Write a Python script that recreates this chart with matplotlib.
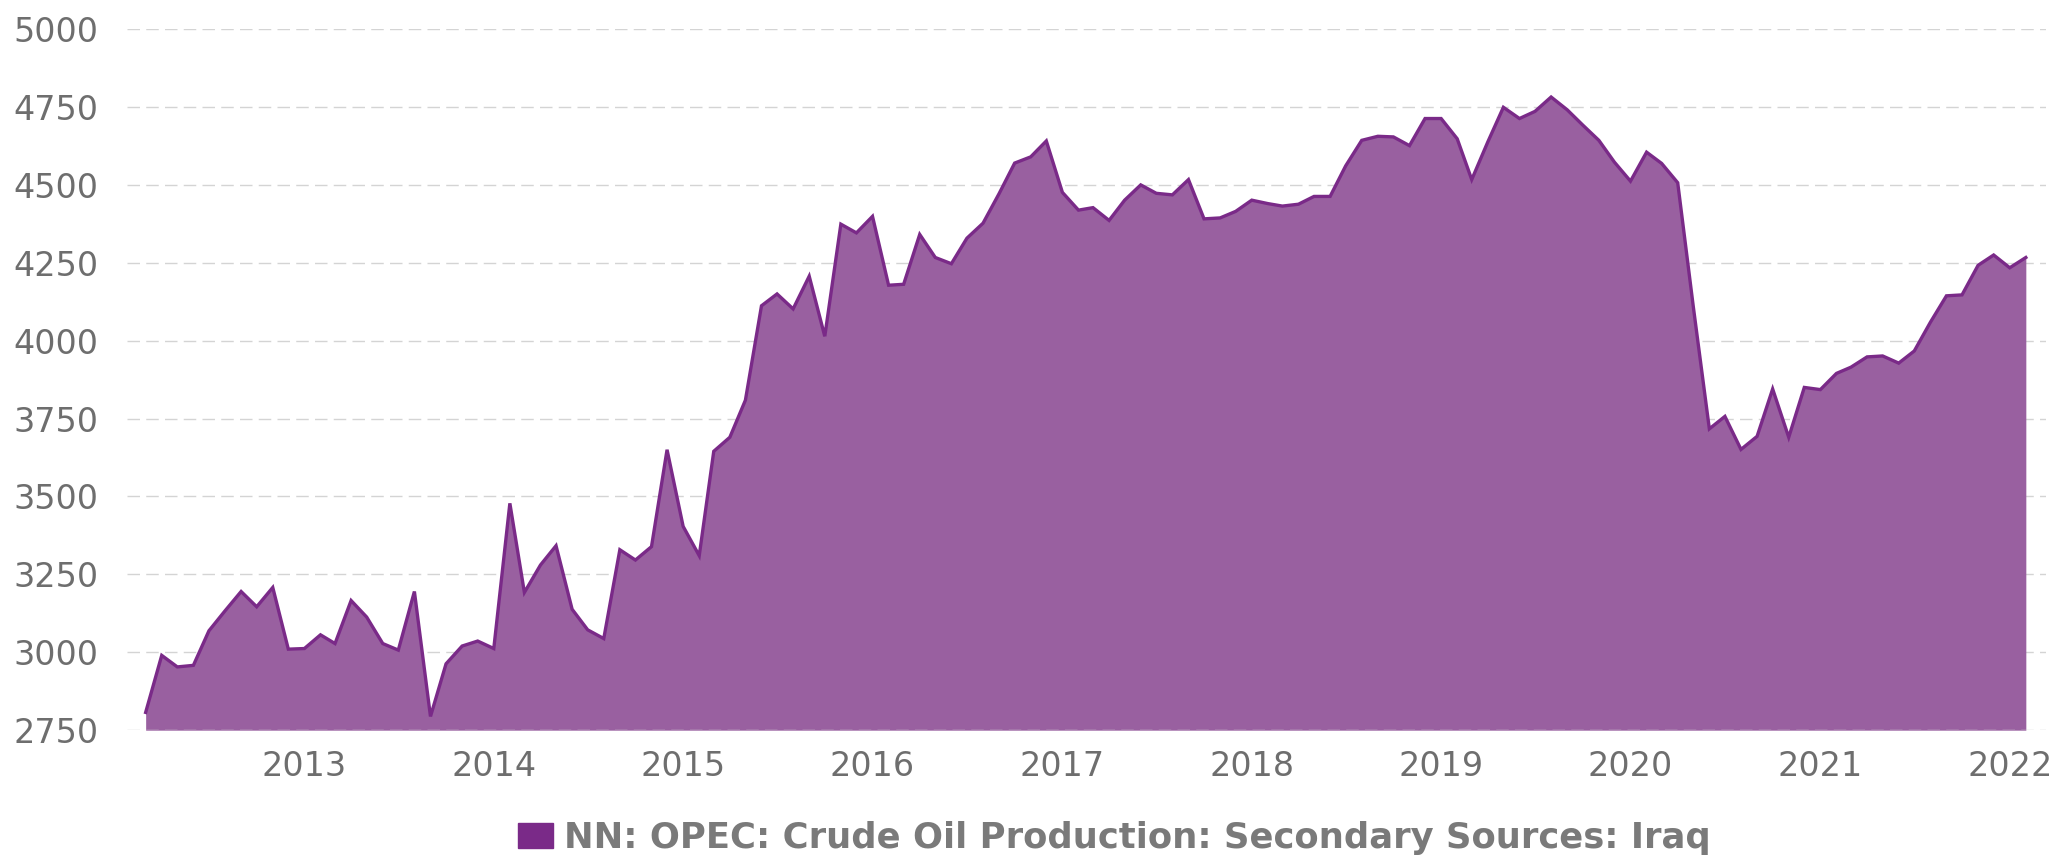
import matplotlib
matplotlib.use("Agg")
import matplotlib.pyplot as plt
import matplotlib.dates as mdates
from matplotlib.patches import Patch
from matplotlib.transforms import blended_transform_factory
import pandas as pd

plt.rcParams['font.family'] = ['DejaVu Sans']

start_month = "2012-03-01"
values = [
    # 2012 Mar-Dec
    2807, 2990, 2953, 2958, 3069, 3133, 3195, 3146, 3208, 3010,
    # 2013
    3012, 3056, 3028, 3166, 3113, 3028, 3007, 3195, 2794, 2963, 3020, 3036,
    # 2014
    3012, 3478, 3192, 3280, 3342, 3138, 3072, 3044, 3329, 3296, 3339, 3650,
    # 2015
    3404, 3310, 3645, 3690, 3809, 4112, 4150, 4102, 4207, 4014, 4374, 4346,
    # 2016
    4399, 4178, 4181, 4341, 4267, 4247, 4329, 4377, 4472, 4570, 4590, 4641,
    # 2017
    4476, 4419, 4427, 4386, 4451, 4500, 4473, 4468, 4517, 4391, 4394, 4415,
    # 2018
    4451, 4440, 4432, 4438, 4463, 4463, 4561, 4643, 4656, 4654, 4626, 4713,
    # 2019
    4713, 4648, 4517, 4638, 4749, 4713, 4736, 4782, 4741, 4692, 4643, 4573,
    # 2020
    4512, 4605, 4569, 4507, 4110, 3717, 3757, 3651, 3693, 3845, 3690, 3850,
    # 2021
    3843, 3895, 3915, 3948, 3951, 3928, 3967, 4059, 4144, 4147, 4242, 4275,
    # 2022 Jan-Feb
    4234, 4267,
]
dates = pd.date_range(start_month, periods=len(values), freq="MS")
y_ticks = [2750, 3000, 3250, 3500, 3750, 4000, 4250, 4500, 4750, 5000]
x_tick_years = list(range(2013, 2023))
legend_label = "NN: OPEC: Crude Oil Production: Secondary Sources: Iraq"

line_color = "#7A2A88"
fill_color = "#9960A0"
text_color = "#6e6e6e"

fig = plt.figure(figsize=(20.58, 8.56), dpi=100)
ax = fig.add_axes([0.0617, 0.147, 0.9325, 0.819])

ax.fill_between(dates, values, y_ticks[0], color=fill_color, lw=0, zorder=2)
ax.plot(dates, values, color=line_color, lw=2.4, zorder=3, solid_joinstyle="miter")

ax.set_ylim(y_ticks[0], y_ticks[-1])
ax.set_xlim(dates[0] - pd.Timedelta(days=36), dates[-1] + pd.Timedelta(days=39))
ax.set_yticks(y_ticks)
ax.set_xticks([pd.Timestamp(f"{y}-01-01") for y in x_tick_years])
ax.xaxis.set_major_formatter(mdates.DateFormatter("%Y"))

for t in y_ticks:
    ax.axhline(t, color="#d4d4d4", lw=1.0, dashes=(9, 4.5),
               zorder=1 if t != y_ticks[0] else 4)

for s in ax.spines.values():
    s.set_visible(False)
ax.tick_params(axis="both", length=0, labelsize=24, labelcolor=text_color)
ax.tick_params(axis="x", pad=14)
for lab in ax.get_yticklabels():
    lab.set_horizontalalignment("left")
    lab.set_transform(blended_transform_factory(fig.transFigure, ax.transData))
    lab.set_x(13 / 2058)

handle = Patch(facecolor=line_color, edgecolor=line_color)
fig.legend([handle], [legend_label], loc="center", bbox_to_anchor=(0.5415, 0.021),
           frameon=False, prop={"size": 25.5, "weight": "bold"}, labelcolor="#7a7a7a",
           handlelength=0.99, handleheight=0.71, handletextpad=0.3,
           borderpad=0, borderaxespad=0)

fig.savefig("out.png", dpi=100, facecolor="white")
